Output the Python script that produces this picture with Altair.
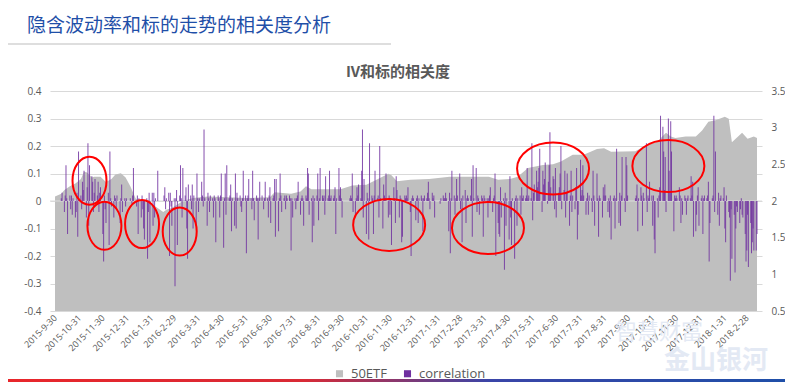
import altair as alt
import pandas as pd

# ---------------- texts ----------------
slide_title = "隐含波动率和标的走势的相关度分析"
chart_title = "IV和标的相关度"
watermark_top = "智慧财富"
watermark_bottom = "金山银河"

# ---------------- x tick labels (month ends) ----------------
tick_labels = ["2015-9-30", "2015-10-31", "2015-11-30", "2015-12-31", "2016-1-31", "2016-2-29",
               "2016-3-31", "2016-4-30", "2016-5-31", "2016-6-30", "2016-7-31", "2016-8-31",
               "2016-9-30", "2016-10-31", "2016-11-30", "2016-12-31", "2017-1-31", "2017-2-28",
               "2017-3-31", "2017-4-30", "2017-5-31", "2017-6-30", "2017-7-31", "2017-8-31",
               "2017-9-30", "2017-10-31", "2017-11-30", "2017-12-31", "2018-1-31", "2018-2-28"]

# ---------------- 50ETF (right axis) ----------------
etf_dates = ["2015-09-30", "2015-10-08", "2015-10-12", "2015-10-19", "2015-10-26", "2015-11-02",
             "2015-11-06", "2015-11-10", "2015-11-16", "2015-11-19", "2015-11-27", "2015-12-04",
             "2015-12-11", "2015-12-16", "2015-12-23", "2015-12-29", "2016-01-04", "2016-01-11",
             "2016-01-21", "2016-02-02", "2016-02-15", "2016-02-19", "2016-02-25", "2016-03-02",
             "2016-03-11", "2016-03-24", "2016-04-12", "2016-05-06", "2016-06-01", "2016-06-30",
             "2016-07-06", "2016-07-27", "2016-08-08", "2016-08-15", "2016-08-22", "2016-09-28",
             "2016-10-13", "2016-10-31", "2016-11-11", "2016-11-28", "2016-12-02", "2016-12-09",
             "2016-12-26", "2017-01-19", "2017-02-14", "2017-03-10", "2017-04-05", "2017-04-17",
             "2017-05-02", "2017-05-12", "2017-05-25", "2017-06-13", "2017-06-26", "2017-07-06",
             "2017-07-21", "2017-08-04", "2017-08-21", "2017-08-30", "2017-09-08", "2017-10-09",
             "2017-10-19", "2017-11-06", "2017-11-17", "2017-11-23", "2017-11-29", "2017-12-12",
             "2017-12-25", "2018-01-02", "2018-01-10", "2018-01-19", "2018-01-26", "2018-01-31",
             "2018-02-05", "2018-02-09", "2018-02-22", "2018-03-01", "2018-03-09", "2018-03-13"]
etf_values = [2.06, 2.10, 2.15, 2.20, 2.24, 2.30, 2.40, 2.39, 2.32, 2.33, 2.33, 2.26, 2.30, 2.36,
              2.38, 2.32, 2.20, 2.03, 2.00, 1.95, 1.85, 1.88, 1.90, 1.94, 2.00, 2.04, 2.06, 2.05,
              2.04, 2.05, 2.12, 2.10, 2.13, 2.20, 2.16, 2.16, 2.21, 2.22, 2.28, 2.37, 2.35, 2.27,
              2.29, 2.30, 2.33, 2.33, 2.33, 2.29, 2.30, 2.33, 2.45, 2.49, 2.50, 2.54, 2.63, 2.63,
              2.71, 2.72, 2.67, 2.68, 2.74, 2.81, 2.93, 2.88, 2.86, 2.88, 2.88, 2.96, 3.08, 3.10,
              3.13, 3.15, 3.12, 2.80, 2.93, 2.85, 2.88, 2.86]

# ---------------- daily correlation (left axis), one list per month ----------------
corr_2015_10 = [0, 0, 0, 0, 0, 0.01, 0.03, -0.04, 0.02, 0.13, 0.01, -0.12, 0.02, -0.03, 0.02, -0.05, 0.01, -0.06, -0.04, 0.03, -0.13, 0.18]
corr_2015_11 = [0.02, -0.03, 0.07, 0.04, 0.11, -0.06, 0.05, 0.21, -0.09, 0.13, 0.09, 0.07, -0.04, 0.03, 0.08, 0.02, 0.07, -0.04, 0.03, 0.05, -0.12]
corr_2015_12 = [-0.22, 0.02, -0.03, -0.08, 0.03, -0.16, 0.18, 0.01, -0.02, -0.06, 0.02, 0.01, -0.03, 0.02, 0, -0.08, 0.01, 0.06, -0.04, 0.01, -0.02, 0.01, 0]
corr_2016_01 = [0, 0.01, 0, -0.01, 0.02, 0.12, 0, -0.02, 0.02, -0.12, 0.01, -0.06, 0.02, -0.03, -0.10, -0.14, 0.01, -0.21, -0.04, 0.03, -0.15]
corr_2016_02 = [0.03, -0.09, 0.03, -0.06, 0.01, 0.11, 0, 0, 0, 0, 0, 0.02, 0.05, -0.03, 0.01, 0.03, -0.20, 0.03, -0.02, -0.09, 0.01]
corr_2016_03 = [-0.31, 0.01, 0.04, -0.16, 0.02, 0.13, 0.01, -0.06, 0.12, 0.02, 0.05, -0.10, -0.21, 0.06, 0.02, -0.03, 0.06, -0.10, 0.02, -0.09, 0.10, 0.01, -0.04]
corr_2016_04 = [0.01, 0.07, 0.02, -0.02, 0.26, 0.01, -0.09, 0.03, 0.01, -0.04, 0.02, 0.01, -0.06, 0.02, 0.01, -0.15, 0.02, 0.01, -0.06, 0.02, 0.10]
corr_2016_05 = [-0.17, 0.01, 0.10, -0.05, 0.13, 0.01, 0.02, 0.06, -0.11, 0.01, -0.09, 0.10, -0.10, 0.03, 0.01, 0.02, -0.02, -0.04, 0.01, 0.11, 0.02, -0.19]
corr_2016_06 = [0.01, 0.02, 0.08, 0.01, -0.03, 0.11, 0.01, -0.07, 0.02, 0.01, -0.14, 0.01, 0.07, 0.02, 0, -0.03, 0.01, 0.07, 0.01, -0.06, 0.02, 0.05]
corr_2016_07 = [-0.08, 0.01, 0.02, 0.08, -0.13, 0.08, -0.11, 0.01, 0.10, 0.02, -0.04, 0.01, 0.02, -0.03, 0.02, 0.01, 0.02, 0.01, -0.18, 0.01, -0.06]
corr_2016_08 = [0.01, -0.03, 0.01, 0.02, 0.07, -0.05, 0.01, 0.02, 0.01, -0.09, 0.02, 0.01, 0.12, 0.10, -0.05, 0.01, -0.15, 0.02, -0.09, 0.01, 0.02, 0.10, -0.07]
corr_2016_09 = [0.01, 0.12, 0.02, 0.01, 0.02, -0.05, 0.09, 0.01, 0.02, 0.11, 0.01, 0.02, 0.01, 0.02, 0.05, -0.12, 0.01, 0.12, 0.02, 0.05, 0.01, -0.06]
corr_2016_10 = [0, 0, 0, 0, 0, 0.01, 0.02, 0.01, 0.10, -0.04, -0.05, 0.01, 0.05, 0.02, 0.06, 0.01, 0.11, 0.26, -0.06, 0.08, -0.12]
corr_2016_11 = [0.03, 0.01, -0.14, 0.21, 0.02, 0.01, -0.12, 0.02, 0.11, 0.01, 0.02, -0.06, 0.20, 0.01, -0.10, 0.06, 0.02, 0.01, 0.10, -0.06, 0.02, -0.05]
corr_2016_12 = [0.01, -0.16, 0.05, 0.01, -0.08, 0.09, 0.04, -0.06, 0.02, 0.01, -0.15, -0.13, 0.02, 0.01, 0.02, 0.01, 0.05, -0.04, -0.20, 0.01, 0.02, 0.01]
corr_2017_01 = [-0.07, 0.01, 0.02, -0.08, 0.01, 0.02, 0.01, -0.11, 0.01, 0.02, 0.01, 0.03, 0.07, 0.01, -0.03, 0.03, 0.01, 0.02, -0.06, 0, 0, 0]
corr_2017_02 = [0, -0.01, 0.01, 0.02, 0.01, 0.01, 0.03, 0.01, -0.11, 0.03, -0.19, 0.01, 0.11, 0.02, -0.05, 0.01, 0.08, 0.02, 0.10, -0.03]
corr_2017_03 = [0.01, -0.15, 0.02, 0.04, -0.08, 0.01, 0.02, 0.01, 0.02, 0.08, -0.13, 0.13, 0.01, 0.12, -0.04, 0.02, 0.01, -0.05, 0.02, 0.01, -0.13, 0.02, 0.01]
corr_2017_04 = [0.01, -0.06, 0.01, 0.02, 0.05, -0.04, 0.01, 0.02, 0.10, -0.20, -0.08, -0.12, -0.13, 0.05, -0.06, 0.01, -0.25, 0.03, -0.09, 0.01]
corr_2017_05 = [-0.14, 0.09, -0.06, -0.16, 0.01, -0.21, 0.01, 0.02, -0.09, 0.01, 0.02, -0.05, 0.05, 0.01, 0.02, 0.01, 0.02, 0.12, 0.01, 0.02, 0.01, 0.21, -0.07]
corr_2017_06 = [0.03, 0.06, 0.11, 0.05, 0.07, 0.12, 0.19, -0.04, 0.11, 0.06, 0.08, 0.14, -0.01, 0.07, 0.13, 0.25, 0.05, 0.09, 0.08, -0.03, 0.12, -0.06]
corr_2017_07 = [0.03, 0.05, 0.10, 0.20, -0.03, 0.04, 0.11, -0.06, 0.03, 0.10, -0.09, 0.02, 0.11, -0.04, 0.02, -0.03, 0.05, 0.12, -0.14, -0.05, 0.15]
corr_2017_08 = [0.02, 0.04, 0.13, 0.02, -0.05, 0.01, 0.03, -0.05, 0.02, 0.01, -0.04, 0.11, 0.02, -0.09, 0.10, 0.01, -0.13, 0.02, 0.01, -0.06, 0.05, 0.02, 0.06]
corr_2017_09 = [0.02, -0.04, 0.01, -0.06, 0.02, -0.14, 0.01, 0.02, -0.10, 0.01, 0.19, -0.08, 0.03, -0.09, 0.02, 0.16, 0.01, -0.04, 0.16, 0.13, 0.02]
corr_2017_10 = [0, 0, 0, 0, 0, 0.01, 0.02, 0.06, -0.11, 0.01, 0.05, 0.02, -0.09, 0.03, 0.01, 0.21, -0.04, 0.02, 0.01, 0.07, 0.02, -0.09]
corr_2017_11 = [0.02, -0.14, -0.19, 0.01, -0.06, 0.02, 0.05, 0.31, 0.27, 0.18, 0.04, 0.16, -0.04, 0.30, 0.11, 0.03, 0.29, 0.18, -0.11, 0.02, 0.01, 0.02]
corr_2017_12 = [0.01, 0.05, 0.02, -0.08, 0.01, -0.05, 0.02, 0.01, -0.05, 0.01, 0.02, 0.01, 0.09, 0.02, 0.07, -0.13, -0.11, -0.05, 0.02, 0.05, -0.09]
corr_2018_01 = [0.01, 0.02, -0.12, 0.01, 0.02, 0.01, 0.02, 0.07, -0.22, -0.08, 0.01, 0.02, 0.31, -0.04, 0.18, -0.05, 0.03, -0.09, 0.01, 0.02, 0.01, 0.05, -0.10]
corr_2018_02 = [-0.15, 0.02, -0.04, -0.06, -0.29, -0.03, -0.21, -0.05, -0.26, -0.10, -0.02, -0.04, -0.08, -0.03, 0.01, -0.05, -0.06, -0.12, -0.22, -0.18]
corr_2018_03 = [-0.05, -0.24, -0.08, -0.19, -0.15, -0.10, -0.18, -0.18, -0.12]

# ---------------- red ellipse annotations ----------------
ellipse_dates = ["2015-11-13", "2015-12-02", "2016-01-19", "2016-03-07",
                 "2016-11-29", "2017-04-04", "2017-06-26", "2017-11-20"]
ellipse_corr = [0.074, -0.090, -0.084, -0.111, -0.087, -0.098, 0.118, 0.127]
ellipse_kind = ["tall", "tall", "tall", "tall", "wide", "wide", "wide", "wide"]

# ---------------- build tables ----------------
month_lists = [
    (2015, 10, corr_2015_10), (2015, 11, corr_2015_11), (2015, 12, corr_2015_12),
    (2016, 1, corr_2016_01), (2016, 2, corr_2016_02), (2016, 3, corr_2016_03),
    (2016, 4, corr_2016_04), (2016, 5, corr_2016_05), (2016, 6, corr_2016_06),
    (2016, 7, corr_2016_07), (2016, 8, corr_2016_08), (2016, 9, corr_2016_09),
    (2016, 10, corr_2016_10), (2016, 11, corr_2016_11), (2016, 12, corr_2016_12),
    (2017, 1, corr_2017_01), (2017, 2, corr_2017_02), (2017, 3, corr_2017_03),
    (2017, 4, corr_2017_04), (2017, 5, corr_2017_05), (2017, 6, corr_2017_06),
    (2017, 7, corr_2017_07), (2017, 8, corr_2017_08), (2017, 9, corr_2017_09),
    (2017, 10, corr_2017_10), (2017, 11, corr_2017_11), (2017, 12, corr_2017_12),
    (2018, 1, corr_2018_01), (2018, 2, corr_2018_02), (2018, 3, corr_2018_03),
]
rows = []
for yr, mo, vals in month_lists:
    start = pd.Timestamp(yr, mo, 1)
    end = start + pd.offsets.MonthEnd(0)
    days = pd.bdate_range(start, end)
    for d, v in zip(days, vals):
        rows.append({"date": d.strftime("%Y-%m-%d"), "corr": v, "series": "correlation"})
corr_df = pd.DataFrame(rows)
etf_df = pd.DataFrame({"date": etf_dates, "etf": etf_values, "series": "50ETF"})

tall_path = "M0,-1 A0.708,1 0 1,1 0,1 A0.708,1 0 1,1 0,-1 Z"
wide_path = "M-1,0 A1,0.722 0 1,1 1,0 A1,0.722 0 1,1 -1,0 Z"
ell_df = pd.DataFrame({
    "date": ellipse_dates,
    "corr": ellipse_corr,
    "shape": [tall_path if k == "tall" else wide_path for k in ellipse_kind],
    "sz": [2304 if k == "tall" else 5184 for k in ellipse_kind],
})


def to_dt(s):
    y, m, d = (int(p) for p in s.split("-"))
    return alt.DateTime(year=y, month=m, date=d, utc=True)


LABEL_COLOR = "#595959"
x_enc = alt.X(
    "date:T",
    scale=alt.Scale(type="utc", domain=[to_dt("2015-9-30"), to_dt("2018-3-13")]),
    axis=alt.Axis(values=[to_dt(s) for s in tick_labels],
                  labelExpr="utcFormat(datum.value, '%Y-%-m-%-d')",
                  labelAngle=-45, labelAlign="right", labelBaseline="middle",
                  labelPadding=5, labelFontSize=9, labelColor=LABEL_COLOR,
                  labelFont="Open Sans", labelOverlap=False, labelBound=False,
                  domain=False, ticks=False, grid=False, title=None),
)

left_ticks = [round(-0.4 + 0.1 * i, 1) for i in range(9)]
right_ticks = [0.5, 1.0, 1.5, 2.0, 2.5, 3.0, 3.5]

y_left = alt.Y(
    "corr:Q",
    scale=alt.Scale(domain=[-0.4, 0.4], nice=False, zero=False),
    axis=alt.Axis(orient="left", values=left_ticks,
                  labelExpr="'' + round(datum.value * 10) / 10",
                  grid=True, gridColor="#D9D9D9", gridWidth=1,
                  domain=False, ticks=False, title=None, labelPadding=9,
                  labelFontSize=10, labelColor=LABEL_COLOR, labelFont="Open Sans"),
)
y_right = alt.Y(
    "etf:Q",
    scale=alt.Scale(domain=[0.5, 3.5], nice=False, zero=False),
    axis=alt.Axis(orient="right", values=right_ticks,
                  labelExpr="'' + datum.value",
                  grid=False, domain=False, ticks=False, title=None, labelPadding=9,
                  labelFontSize=10, labelColor=LABEL_COLOR, labelFont="Open Sans"),
)

color_enc = alt.Color(
    "series:N",
    scale=alt.Scale(domain=["50ETF", "correlation"], range=["#BFBFBF", "#7030A0"]),
    legend=alt.Legend(title=None, orient="none", legendX=283, legendY=276,
                      direction="horizontal", symbolType="square", symbolSize=50,
                      symbolStrokeWidth=0, symbolOpacity=1, labelFontSize=13,
                      labelColor=LABEL_COLOR, labelFont="Open Sans",
                      columnPadding=14, labelOffset=5, padding=0),
)

area = alt.Chart(etf_df).mark_area(clip=True, opacity=1, interpolate="linear").encode(
    x=x_enc, y=y_right, y2=alt.datum(0.5), color=color_enc
)

bars = alt.Chart(corr_df).mark_bar(width=1, opacity=0.85, clip=True).encode(
    x=x_enc, y=y_left, y2=alt.datum(0), color=color_enc
)
zero_line = alt.Chart(pd.DataFrame({"corr": [0.0]})).mark_rule(
    color="#DCDCDC", strokeWidth=1
).encode(y=y_left)
ellipses = alt.Chart(ell_df).mark_point(
    filled=False, color="#FF0000", strokeWidth=2, opacity=1
).encode(
    x=x_enc, y=y_left,
    shape=alt.Shape("shape:N", scale=None),
    size=alt.Size("sz:Q", scale=None),
)
left_layer = alt.layer(zero_line, bars, ellipses)

title_txt = alt.Chart(pd.DataFrame({"t": [slide_title]})).mark_text(
    align="left", baseline="middle", fontSize=19, font="Noto Sans CJK SC",
    color="#1F4FA8"
).encode(x=alt.value(-23), y=alt.value(-65), text="t:N")

title_rule = alt.Chart(pd.DataFrame({"a": [0]})).mark_rule(
    color="#DEDEDE", strokeWidth=2
).encode(x=alt.value(-42), x2=alt.value(341), y=alt.value(-47))

chart_title_txt = alt.Chart(pd.DataFrame({"t": [chart_title]})).mark_text(
    align="center", baseline="middle", fontSize=15, font="Noto Sans CJK SC",
    fontWeight="bold", color=LABEL_COLOR
).encode(x=alt.value(348), y=alt.value(-19), text="t:N")

wm1 = alt.Chart(pd.DataFrame({"t": [watermark_top]})).mark_text(
    align="center", baseline="middle", fontSize=22, font="Noto Sans CJK SC",
    color="#E1E7F3", opacity=0.9
).encode(x=alt.value(609), y=alt.value(241), text="t:N")
wm2 = alt.Chart(pd.DataFrame({"t": [watermark_bottom]})).mark_text(
    align="center", baseline="middle", fontSize=26, font="Noto Sans CJK SC",
    fontWeight="bold", color="#E1E7F3", opacity=0.9
).encode(x=alt.value(666), y=alt.value(270), text="t:N")

gradient = {
    "gradient": "linear", "x1": 0, "x2": 1, "y1": 0, "y2": 0,
    "stops": [
        {"offset": 0.0, "color": "#E8262B"},
        {"offset": 0.38, "color": "#D92A35"},
        {"offset": 0.62, "color": "#3A45A8"},
        {"offset": 1.0, "color": "#1F4FA8"},
    ],
}
bottom_bar = alt.Chart(pd.DataFrame({"a": [0]})).mark_rect(color=gradient).encode(
    x=alt.value(-42), x2=alt.value(735), y=alt.value(288), y2=alt.value(291)
)

chart = alt.layer(
    title_txt, title_rule, chart_title_txt, area, left_layer, wm1, wm2, bottom_bar
).resolve_scale(y="independent").properties(
    width=712, height=220,
    padding={"left": 42, "top": 83, "right": 23, "bottom": 71},
    autosize=alt.AutoSizeParams(type="none"),
    background="white",
).configure_view(stroke=None)

chart.save("out.html", embed_options={"renderer": "svg", "actions": False})
